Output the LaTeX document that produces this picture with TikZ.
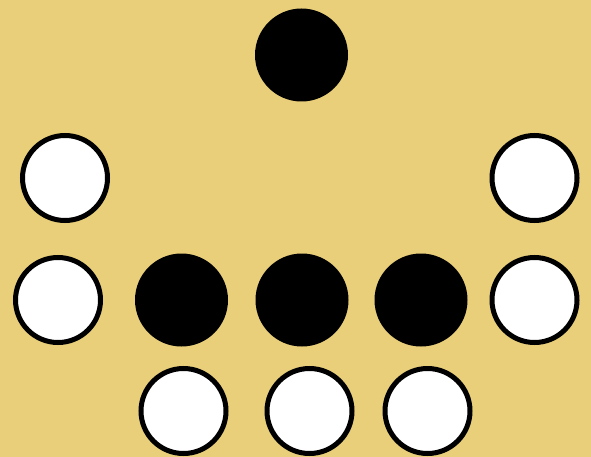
\documentclass[tikz,border=0pt]{standalone}
\definecolor{bgyellow}{RGB}{233,207,122}
\begin{document}
\begin{tikzpicture}[x=1pt,y=-1pt,
  whitestone/.style={circle,inner sep=0pt,minimum size=85pt,draw=black,line width=5pt,fill=white},
  blackstone/.style={circle,inner sep=0pt,minimum size=93pt,fill=black}]
\fill[bgyellow] (0,0) rectangle (591,457);
\useasboundingbox (0,0) rectangle (591,457);
\node[blackstone] (top) at (301.5,55) {};
\node[whitestone] (w1) at (65,178) {};
\node[whitestone] (w2) at (534.5,178) {};
\node[whitestone] (w3) at (58,300) {};
\node[blackstone] (b1) at (181.5,300) {};
\node[blackstone] (b2) at (302,300) {};
\node[blackstone] (b3) at (421,300) {};
\node[whitestone] (w4) at (534.5,300) {};
\node[whitestone] (w5) at (183.5,411) {};
\node[whitestone] (w6) at (309.5,411) {};
\node[whitestone] (w7) at (427.5,411) {};
\end{tikzpicture}
\end{document}
